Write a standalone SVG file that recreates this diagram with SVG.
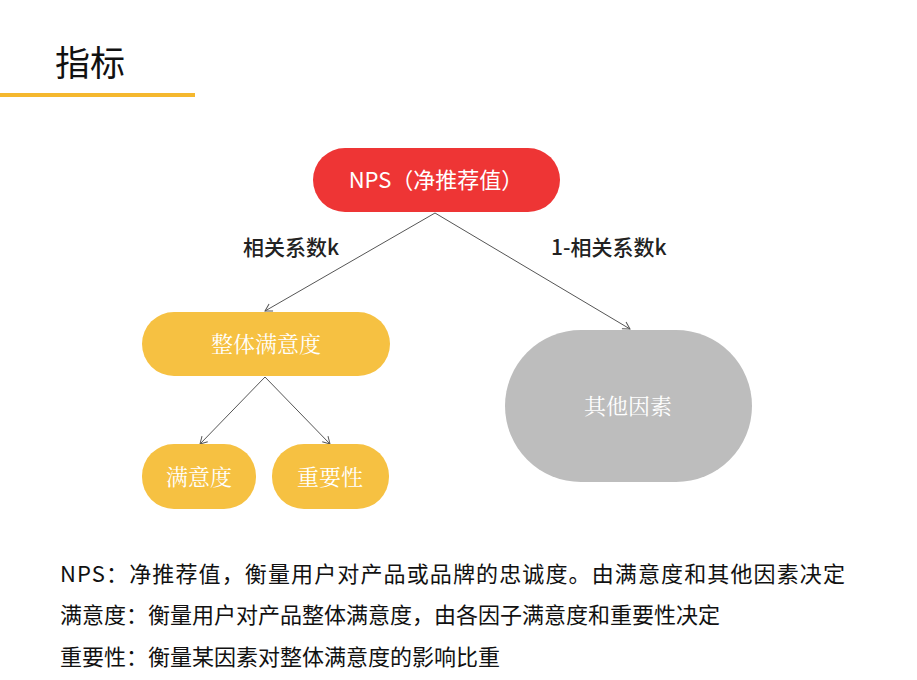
<svg xmlns="http://www.w3.org/2000/svg" width="917" height="680" viewBox="0 0 917 680">
<style>
text{font-family:"Noto Sans CJK SC","Liberation Sans",sans-serif}
.w{fill:#fff;font-size:22px;text-anchor:middle;font-family:"Noto Serif CJK SC","Noto Sans CJK SC",serif}
.l{fill:#222;font-size:21px;font-weight:500}
.b{fill:#111;font-size:22px}
.c{stroke:#555;stroke-width:1;fill:none;marker-end:url(#a)}
</style>
<defs><marker id="a" markerWidth="10" markerHeight="10" refX="8" refY="5" orient="auto" markerUnits="userSpaceOnUse"><path d="M1,1 L8,5 L1,9" fill="none" stroke="#555" stroke-width="1"/></marker></defs>
<rect width="917" height="680" fill="#fff"/>
<text x="55" y="76" font-size="35" fill="#111">指标</text>
<rect x="0" y="93" width="195" height="4" fill="#f5b82e"/>
<g id="connectors">
<line class="c" x1="435" y1="213" x2="265" y2="311"/>
<line class="c" x1="435" y1="213" x2="630" y2="329"/>
<line class="c" x1="265" y1="377" x2="200" y2="444"/>
<line class="c" x1="265" y1="377" x2="330" y2="444"/>
<text class="l" x="243" y="255">相关系数k</text>
<text class="l" x="551" y="255">1-相关系数k</text>
</g>
<g id="nps"><rect x="313" y="148" width="247" height="64" rx="32" fill="#ee3535"/><text class="w" x="436" y="188" style="font-family:'Noto Sans CJK SC',sans-serif">NPS（净推荐值）</text></g>
<g id="overall"><rect x="142" y="312" width="248" height="64" rx="32" fill="#f6c142"/><text class="w" x="266" y="352">整体满意度</text></g>
<g id="sat"><rect x="142" y="444" width="114" height="65" rx="32" fill="#f6c142"/><text class="w" x="199" y="485">满意度</text></g>
<g id="imp"><rect x="272" y="444" width="117" height="65" rx="32" fill="#f6c142"/><text class="w" x="330" y="485">重要性</text></g>
<g id="other"><rect x="505" y="330" width="247" height="152" rx="76" fill="#bdbdbd"/><text class="w" x="628" y="414">其他因素</text></g>
<text class="b" x="60" y="582" textLength="785">NPS：净推荐值，衡量用户对产品或品牌的忠诚度。由满意度和其他因素决定</text>
<text class="b" x="60" y="623">满意度：衡量用户对产品整体满意度，由各因子满意度和重要性决定</text>
<text class="b" x="60" y="665">重要性：衡量某因素对整体满意度的影响比重</text>
</svg>
